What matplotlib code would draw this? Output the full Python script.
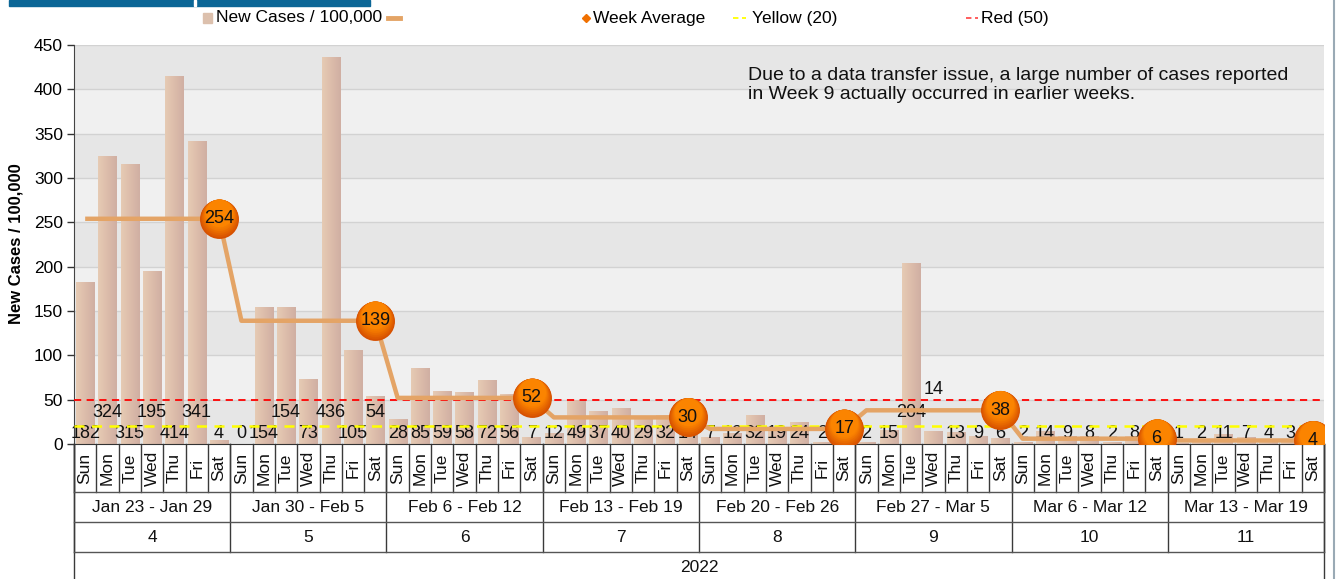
import numpy as np
import matplotlib
matplotlib.use("Agg")
import matplotlib.pyplot as plt
from matplotlib.patches import Rectangle
from matplotlib.lines import Line2D
from matplotlib.colors import LinearSegmentedColormap, to_rgb
import matplotlib.transforms as mtrans

plt.rcParams['font.family'] = ['Liberation Sans', 'DejaVu Sans']

# ---------------- data ----------------
days = ["Sun", "Mon", "Tue", "Wed", "Thu", "Fri", "Sat"]
week_ranges = ["Jan 23 - Jan 29", "Jan 30 - Feb 5", "Feb 6 - Feb 12", "Feb 13 - Feb 19",
               "Feb 20 - Feb 26", "Feb 27 - Mar 5", "Mar 6 - Mar 12", "Mar 13 - Mar 19"]
week_numbers = ["4", "5", "6", "7", "8", "9", "10", "11"]
year_label = "2022"

new_cases = [
    182, 324, 315, 195, 414, 341, 4,
    0, 154, 154, 73, 436, 105, 54,
    28, 85, 59, 58, 72, 56, 7,
    12, 49, 37, 40, 29, 32, 14,
    7, 12, 32, 19, 24, 2, 23,
    2, 15, 204, 14, 13, 9, 6,
    2, 14, 9, 8, 2, 8, 1,
    1, 2, 11, 7, 4, 3, 2,
]
week_average = [254, 139, 52, 30, 17, 38, 6, 4]
yellow_level = 20
red_level = 50
note = ("Due to a data transfer issue, a large number of cases reported\n"
        "in Week 9 actually occurred in earlier weeks.")

# label stacking rows (layout only): 0 low, 1 mid, 2 high, -1 hidden behind marker
label_rows = [
    0, 1, 0, 1, 0, 1, 0,
    0, 0, 1, 0, 1, 0, 1,
    0, 0, 0, 0, 0, 0, 0,
    0, 0, 0, 0, 0, 0, 0,
    0, 0, 0, 0, 0, 0, -1,
    0, 0, 1, 2, 0, 0, 0,
    0, 0, 0, 0, 0, 0, -1,
    0, 0, 0, 0, 0, 0, -1,
]
row_y = [12, 36, 62]

# ---------------- figure ----------------
W, H = 1340, 579
fig = plt.figure(figsize=(W / 100, H / 100), dpi=100)
L, R, T, B = 74, 1324, 45, 444
ax = fig.add_axes([L / W, 1 - B / H, (R - L) / W, (B - T) / H])

n = len(new_cases)
x = np.arange(n)

# background bands
for k in range(9):
    lo = k * 50
    col = '#e6e6e6' if k % 2 == 0 else '#f0f0f0'
    ax.axhspan(lo, lo + 50, color=col, zorder=0, lw=0)
for k in range(1, 10):
    ax.axhline(k * 50, color='#d2d2d2', lw=1, zorder=1)

# bars with horizontal gradient
bar_cmap = LinearSegmentedColormap.from_list('bar', ['#e6cbb4', '#dcbcaa', '#d0afa3'])
grad = np.linspace(0, 1, 64).reshape(1, -1)
bw = 0.82
for xi, v in zip(x, new_cases):
    if v <= 0:
        continue
    ax.imshow(grad, extent=(xi - bw / 2, xi + bw / 2, 0, v), aspect='auto',
              cmap=bar_cmap, zorder=2, interpolation='bilinear')
ax.set_xlim(-0.5, n - 0.5)
ax.set_ylim(0, 450)

# value labels
for xi, v, r in zip(x, new_cases, label_rows):
    if r < 0:
        continue
    ax.text(xi, row_y[r], str(v), ha='center', va='center', fontsize=13,
            color='#111111', zorder=3)

# reference lines
ax.axhline(yellow_level, color='#ffff00', lw=1.8, ls=(0, (4, 3)), zorder=4)
ax.axhline(red_level, color='#ff0000', lw=1.3, ls=(0, (4, 3)), zorder=4)

# week average step line
lx, ly = [], []
for w, a in enumerate(week_average):
    lx += [7 * w, 7 * w + 6]
    ly += [a, a]
ax.plot(lx, ly, color='#e4a466', lw=3.2, zorder=5, solid_capstyle='butt')

# gradient markers (bright top, dark bottom)
mx = [7 * w + 6 for w in range(len(week_average))]
D = 28.0  # points
dark = np.array(to_rgb('#d65000'))
light = np.array(to_rgb('#fb8400'))
N = 12
for k in range(N):
    f = k / (N - 1)
    d = D * (1 - 0.3 * f)
    dy = (D - d) / 2.0
    tr = ax.transData + mtrans.ScaledTranslation(0, dy / 72.0, fig.dpi_scale_trans)
    ax.scatter(mx, week_average, s=d ** 2, color=dark + (light - dark) * f,
               zorder=6, lw=0, transform=tr)
for xm, a in zip(mx, week_average):
    ax.text(xm, a, str(a), ha='center', va='center', fontsize=13, color='#111111', zorder=7)

# axes styling
ax.set_yticks(np.arange(0, 451, 50))
ax.set_xticks([])
ax.tick_params(axis='y', length=5, width=1, color='#333333', labelsize=12.5, pad=3)
for s in ['top', 'right']:
    ax.spines[s].set_visible(False)
ax.spines['left'].set_color('#444444')
ax.spines['bottom'].set_color('#333333')

# ---------------- hierarchical x axis ----------------
trans = mtrans.blended_transform_factory(ax.transData, ax.transAxes)
hpx = B - T
def yf(py):
    return -(py - B) / hpx

y_day, y_wk, y_num, y_bot = yf(492), yf(522), yf(552), yf(582)
lc = '#3a3a3a'
for i in range(n + 1):
    xb = i - 0.5
    ax.plot([xb, xb], [0, y_day], color=lc, lw=1, transform=trans, clip_on=False)
for w in range(len(week_ranges) + 1):
    xb = 7 * w - 0.5
    ax.plot([xb, xb], [0, y_num], color=lc, lw=1, transform=trans, clip_on=False)
ax.plot([-0.5, -0.5], [0, y_bot], color=lc, lw=1, transform=trans, clip_on=False)
ax.plot([n - 0.5, n - 0.5], [0, y_bot], color=lc, lw=1, transform=trans, clip_on=False)
for yy in [y_day, y_wk, y_num]:
    ax.plot([-0.5, n - 0.5], [yy, yy], color='#555555', lw=1, transform=trans, clip_on=False)

for i in range(n):
    ax.text(i, (0 + y_day) / 2, days[i % 7], rotation=90, ha='center', va='center',
            fontsize=12.5, transform=trans, color='#111111', zorder=2)
for w in range(len(week_ranges)):
    xc = 7 * w + 3
    ax.text(xc, (y_day + y_wk) / 2, week_ranges[w], ha='center', va='center',
            fontsize=12.5, transform=trans, color='#111111')
    ax.text(xc, (y_wk + y_num) / 2, week_numbers[w], ha='center', va='center',
            fontsize=12.5, transform=trans, color='#111111')
ax.text((n - 1) / 2, yf(567), year_label, ha='center', va='center', fontsize=12.5,
        transform=trans, color='#111111')

# note
fig.text(748 / W, 1 - 67 / H, note, fontsize=14, va='top', ha='left',
         linespacing=1.17, color='#111111')

# y label
fig.text(16 / W, 1 - 244 / H, "New Cases / 100,000", rotation=90, ha='center', va='center',
         fontsize=12, fontweight='bold')

# ---------------- legend (manual) ----------------
ly_ = 1 - 18 / H
fig.patches.append(Rectangle((203 / W, 1 - 23 / H), 9 / W, 10 / H, transform=fig.transFigure,
                             color='#dcc0ad', figure=fig))
fig.text(216 / W, ly_, "New Cases / 100,000", fontsize=12.5, va='center', ha='left')
fig.lines.append(Line2D([388 / W, 400 / W], [ly_, ly_], transform=fig.transFigure,
                        color='#e4a466', lw=3.5, figure=fig))
fig.lines.append(Line2D([586 / W], [ly_], transform=fig.transFigure, marker='D',
                        markersize=4.5, color='#f07000', ls='none', figure=fig))
fig.text(593 / W, ly_, "Week Average", fontsize=12.5, va='center', ha='left')
fig.lines.append(Line2D([733 / W, 746 / W], [ly_, ly_], transform=fig.transFigure,
                        color='#ffff00', lw=1.3, ls=(0, (3, 2)), figure=fig))
fig.text(752 / W, ly_, "Yellow (20)", fontsize=12.5, va='center', ha='left')
fig.lines.append(Line2D([966 / W, 978 / W], [ly_, ly_], transform=fig.transFigure,
                        color='#ff5050', lw=1.3, ls=(0, (3, 2)), figure=fig))
fig.text(981 / W, ly_, "Red (50)", fontsize=12.5, va='center', ha='left')

# header fragment and right edge
fig.patches.append(Rectangle((9 / W, 1 - 6 / H), (370 - 9) / W, 6 / H, transform=fig.transFigure,
                             color='#0b6696', figure=fig))
fig.patches.append(Rectangle((194 / W, 1 - 6 / H), 2 / W, 6 / H, transform=fig.transFigure,
                             color='white', figure=fig))
fig.lines.append(Line2D([1334 / W, 1334 / W], [0, 1], transform=fig.transFigure,
                        color='#9aaab5', lw=1.5, figure=fig))

fig.savefig("out.png", dpi=100)
